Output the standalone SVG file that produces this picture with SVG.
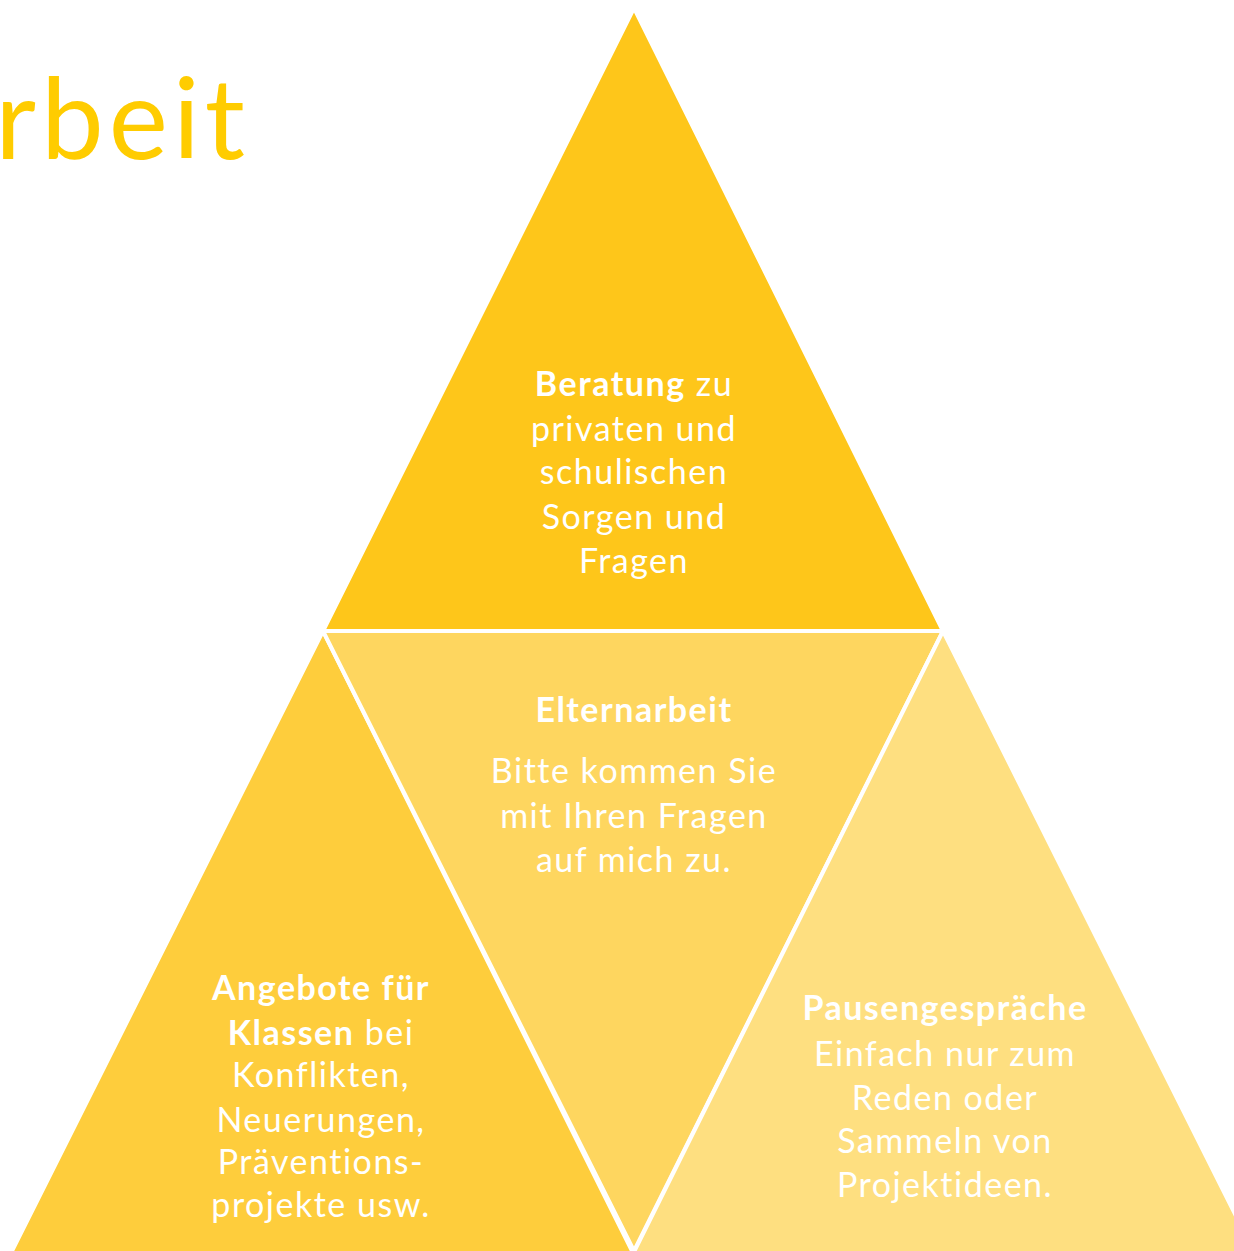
<svg xmlns="http://www.w3.org/2000/svg" width="1234" height="1251" viewBox="0 0 1234 1251">
<style>
.tri{stroke:#FFFFFF;stroke-width:4;stroke-linejoin:miter}
.t{font-family:Lato,"Open Sans","Liberation Sans",sans-serif;font-size:34px;letter-spacing:1.5px;fill:#FFFFFF;text-anchor:middle}
.b{font-weight:700}
.title{font-family:Lato,"Open Sans","Liberation Sans",sans-serif;font-weight:400;font-size:112px;fill:#FFCC00;text-anchor:end;letter-spacing:5px}
</style>
<rect width="1234" height="1251" fill="#FFFFFF"/>
<text class="title" x="250" y="159">rbeit</text>
<g id="top">
<polygon class="tri" points="634,8 943,631 323,631" fill="#FEC61A"/>
<text class="t" y="396"><tspan x="634" class="b">Beratung</tspan> zu</text>
<text class="t" x="634" y="441">privaten und</text>
<text class="t" x="634" y="484">schulischen</text>
<text class="t" x="634" y="529">Sorgen und</text>
<text class="t" x="634" y="573">Fragen</text>
</g>
<g id="left">
<polygon class="tri" points="323,631 634,1255 10,1255" fill="#FECD3C"/>
<text class="t b" x="321" y="1000">Angebote für</text>
<text class="t" y="1045"><tspan x="321" class="b">Klassen</tspan> bei</text>
<text class="t" x="321" y="1087">Konflikten,</text>
<text class="t" x="321" y="1132">Neuerungen,</text>
<text class="t" x="321" y="1174">Präventions-</text>
<text class="t" x="321" y="1217">projekte usw.</text>
</g>
<g id="middle">
<polygon class="tri" points="323,631 943,631 634,1251" fill="#FED65F"/>
<text class="t b" x="634" y="722">Elternarbeit</text>
<text class="t" x="634" y="783">Bitte kommen Sie</text>
<text class="t" x="634" y="828">mit Ihren Fragen</text>
<text class="t" x="634" y="872">auf mich zu.</text>
</g>
<g id="right">
<polygon class="tri" points="943,631 1258,1260 630,1260" fill="#FEDF80"/>
<text class="t b" x="945" y="1020">Pausengespräche</text>
<text class="t" x="945" y="1066">Einfach nur zum</text>
<text class="t" x="945" y="1110">Reden oder</text>
<text class="t" x="945" y="1153">Sammeln von</text>
<text class="t" x="945" y="1197">Projektideen.</text>
</g>
<g id="connectors"></g>
</svg>
